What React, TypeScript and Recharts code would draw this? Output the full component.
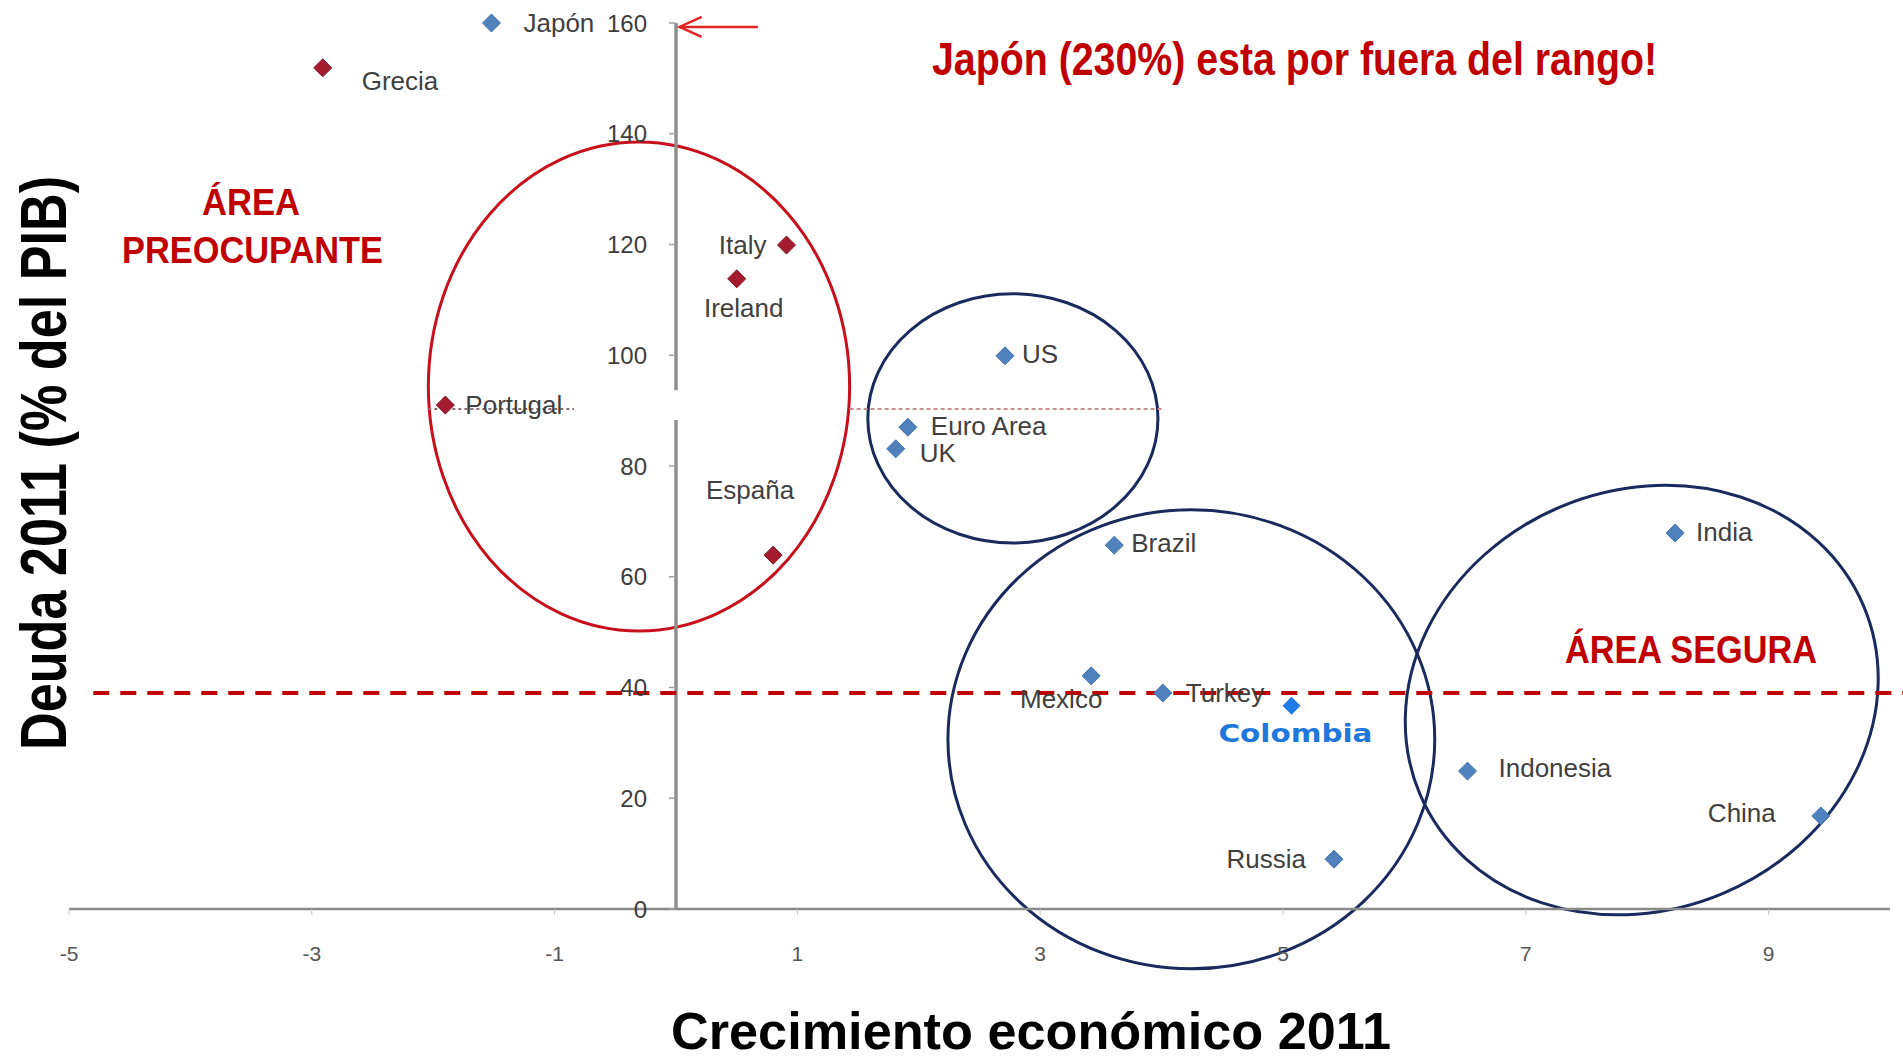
import React from 'react';
import {
  ScatterChart,
  Scatter,
  XAxis,
  YAxis,
  ReferenceLine,
  ReferenceArea,
  ReferenceDot
} from 'recharts';

const W = 1903;
const H = 1062;
const FONT = '"Liberation Sans", Arial, sans-serif';

// países europeos en problemas (rombos rojos): crecimiento 2011 y deuda (% PIB)
const redNames = ['Grecia', 'Italy', 'Ireland', 'Portugal', 'España'];
const redGrowth = [-2.91, 0.91, 0.5, -1.9, 0.8];
const redDebt = [151.9, 119.9, 113.8, 91.0, 63.9];

// resto de países (rombos azules); Japón (230%) va pegado al tope del eje
const blueNames = ['Japón', 'US', 'Euro Area', 'UK', 'Brazil', 'Mexico', 'Turkey', 'Russia', 'Indonesia', 'India', 'China'];
const blueGrowth = [-1.52, 2.71, 1.91, 1.81, 3.61, 3.42, 4.01, 5.42, 6.52, 8.23, 9.43];
const blueDebt = [160, 99.9, 87.0, 83.1, 65.7, 42.1, 39.0, 9.0, 24.9, 67.9, 16.8];

const colombiaNames = ['Colombia'];
const colombiaGrowth = [5.07];
const colombiaDebt = [36.7];

const xTicks = [-5, -3, -1, 1, 3, 5, 7, 9];
const yTicks = [0, 20, 40, 60, 80, 100, 120, 140, 160];

// elipses como cajas [x1, x2, y1, y2] + giro en grados
const worryZone = [-2.04, 1.43, 50.2, 138.5, 0];
const usZone = [1.58, 3.97, 66.1, 111.1, 0];
const emergingZone = [2.24, 6.25, -10.8, 72.1, 0];
const safeZone = [5.97, 9.94, -0.13, 75.6, -23];

const debtLimit = 39;
const euroLine = 90.3;

const toRows = (names: string[], xs: number[], ys: number[]) =>
  names.map((name, i) => ({ name, growth: xs[i], debt: ys[i] }));

const redData = toRows(redNames, redGrowth, redDebt);
const blueData = toRows(blueNames, blueGrowth, blueDebt);
const colombiaData = toRows(colombiaNames, colombiaGrowth, colombiaDebt);

// desplazamiento de cada etiqueta respecto al rombo
const labelPos: Record<string, [number, number, 'start' | 'middle' | 'end']> = {
  'Grecia': [39, 13, 'start'],
  'Italy': [-20, 0, 'end'],
  'Ireland': [7, 29, 'middle'],
  'Portugal': [20, 0, 'start'],
  'España': [-23, -65, 'middle'],
  'Japón': [32, 0, 'start'],
  'US': [17, -2, 'start'],
  'Euro Area': [23, -1, 'start'],
  'UK': [24, 4, 'start'],
  'Brazil': [17, -2, 'start'],
  'Mexico': [-30, 23, 'middle'],
  'Turkey': [23, 0, 'start'],
  'Russia': [-28, 0, 'end'],
  'Indonesia': [31, -3, 'start'],
  'India': [21, -1, 'start'],
  'China': [-45, -3, 'end']
};

const diamondShape = (fill: string, stroke: string) => (p: any) => {
  const { cx, cy, payload } = p;
  const [dx, dy, anchor] = labelPos[payload.name] || [20, 0, 'start'];
  const s = 9;
  return (
    <g>
      <polygon
        points={`${cx},${cy - s} ${cx + s},${cy} ${cx},${cy + s} ${cx - s},${cy}`}
        fill={fill}
        stroke={stroke}
        strokeWidth={1}
      />
      <text
        x={cx + dx}
        y={cy + dy}
        textAnchor={anchor}
        dominantBaseline="central"
        fontFamily={FONT}
        fontSize={26}
        fill="#404040"
      >
        {payload.name}
      </text>
    </g>
  );
};

const colombiaShape = (p: any) => {
  const { cx, cy, payload } = p;
  const s = 9;
  return (
    <g>
      <polygon
        points={`${cx},${cy - s} ${cx + s},${cy} ${cx},${cy + s} ${cx - s},${cy}`}
        fill="#1f7ae6"
      />
      <text
        x={cx - 73}
        y={cy + 28}
        dominantBaseline="central"
        fontFamily='"DejaVu Sans", Verdana, sans-serif'
        fontWeight="bold"
        fontSize={24}
        fill="#1e78dc"
        textLength={154}
        lengthAdjust="spacingAndGlyphs"
      >
        {payload.name}
      </text>
    </g>
  );
};

const ellipseShape = (color: string, angle: number) => (p: any) => {
  const { x, y, width, height } = p;
  const cx = x + width / 2;
  const cy = y + height / 2;
  return (
    <ellipse
      cx={cx}
      cy={cy}
      rx={Math.abs(width) / 2}
      ry={Math.abs(height) / 2}
      transform={angle ? `rotate(${angle} ${cx} ${cy})` : undefined}
      fill="none"
      stroke={color}
      strokeWidth={3}
    />
  );
};

const arrowShape = (p: any) => {
  const { x1, y1, x2, y2 } = p;
  return (
    <g>
      <line x1={x1} y1={y1} x2={x2} y2={y2} stroke="#e02424" strokeWidth={2.5} />
      <polyline
        points={`${x2 + 22},${y2 - 10} ${x2},${y2} ${x2 + 22},${y2 + 10}`}
        fill="none"
        stroke="#e02424"
        strokeWidth={2.5}
      />
    </g>
  );
};

const yTickShape = (v: number) => (p: any) => (
  <g>
    <line x1={p.cx - 7} x2={p.cx} y1={p.cy} y2={p.cy} stroke="#a0a0a0" strokeWidth={1.5} />
    <text
      x={p.cx - 29}
      y={p.cy}
      textAnchor="end"
      dominantBaseline="central"
      fontFamily={FONT}
      fontSize={24}
      fill="#3d3d3d"
    >
      {v}
    </text>
  </g>
);

const zone = (b: number[], color: string, key: string) => (
  <ReferenceArea
    key={key}
    x1={b[0]}
    x2={b[1]}
    y1={b[2]}
    y2={b[3]}
    ifOverflow="visible"
    shape={ellipseShape(color, b[4])}
  />
);

const App: React.FC = () => {
  return (
    <div style={{ position: 'relative', width: W, height: H, background: '#fff' }}>
      <style>{'body{margin:0;background:#fff}'}</style>
      <ScatterChart width={W} height={H} margin={{ top: 23, right: 13, bottom: 93, left: 69 }}>
        <XAxis
          type="number"
          dataKey="growth"
          domain={[-5, 10]}
          ticks={xTicks}
          interval={0}
          height={60}
          axisLine={{ stroke: '#8a8a8a', strokeWidth: 2.5 }}
          tickLine={{ stroke: '#c4c4c4' }}
          tickSize={6}
          tickMargin={31}
          tick={{ fontSize: 21, fill: '#555', fontFamily: FONT }}
        />
        <YAxis type="number" dataKey="debt" domain={[0, 160]} hide />

        {/* eje vertical en x = 0, con el corte que deja la caja blanca */}
        <ReferenceLine segment={[{ x: 0, y: 0 }, { x: 0, y: 88.3 }]} stroke="#8f8f8f" strokeWidth={3.5} ifOverflow="visible" />
        <ReferenceLine segment={[{ x: 0, y: 93.7 }, { x: 0, y: 160 }]} stroke="#8f8f8f" strokeWidth={3.5} ifOverflow="visible" />
        {yTicks.map((v) => (
          <ReferenceDot key={`yt-${v}`} x={0} y={v} r={0} ifOverflow="visible" shape={yTickShape(v)} />
        ))}

        <ReferenceLine
          segment={[{ x: -2.04, y: euroLine }, { x: -0.84, y: euroLine }]}
          stroke="#8a7070"
          strokeWidth={2}
          strokeDasharray="3 3"
          ifOverflow="visible"
        />
        <ReferenceLine
          segment={[{ x: 1.43, y: euroLine }, { x: 4.0, y: euroLine }]}
          stroke="#c49090"
          strokeWidth={2}
          strokeDasharray="4 3"
          ifOverflow="visible"
        />
        <ReferenceLine
          segment={[{ x: -4.8, y: debtLimit }, { x: 10.11, y: debtLimit }]}
          stroke="#c00000"
          strokeWidth={4}
          strokeDasharray="16 11"
          ifOverflow="visible"
        />

        {zone(worryZone, '#c8101c', 'z1')}
        {zone(usZone, '#1b2a5c', 'z2')}
        {zone(emergingZone, '#1b2a5c', 'z3')}
        {zone(safeZone, '#1b2a5c', 'z4')}

        <ReferenceLine
          segment={[{ x: 0.675, y: 159.3 }, { x: 0.03, y: 159.3 }]}
          ifOverflow="visible"
          shape={arrowShape}
        />

        <Scatter data={redData} shape={diamondShape('#a51c30', '#7e1424')} isAnimationActive={false} />
        <Scatter data={blueData} shape={diamondShape('#4f81bd', '#4474ad')} isAnimationActive={false} />
        <Scatter data={colombiaData} shape={colombiaShape} isAnimationActive={false} />
      </ScatterChart>

      <svg
        width={W}
        height={H}
        style={{ position: 'absolute', left: 0, top: 0, pointerEvents: 'none' }}
        fontFamily={FONT}
        fontWeight="bold"
      >
        <text x={932} y={75} fontSize={47} fill="#c00000" textLength={725} lengthAdjust="spacingAndGlyphs">
          Japón (230%) esta por fuera del rango!
        </text>
        <text x={202} y={215} fontSize={36} fill="#c00000" textLength={98} lengthAdjust="spacingAndGlyphs">
          ÁREA
        </text>
        <text x={122} y={263} fontSize={37} fill="#c00000" textLength={261} lengthAdjust="spacingAndGlyphs">
          PREOCUPANTE
        </text>
        <text x={1565} y={663} fontSize={39} fill="#c00000" textLength={252} lengthAdjust="spacingAndGlyphs">
          ÁREA SEGURA
        </text>
        <text x={671} y={1049} fontSize={52} fill="#000" textLength={720} lengthAdjust="spacingAndGlyphs">
          Crecimiento económico 2011
        </text>
        <text
          x={66 - 287}
          y={463}
          transform="rotate(-90 66 463)"
          fontSize={64}
          fill="#000"
          textLength={574}
          lengthAdjust="spacingAndGlyphs"
        >
          Deuda 2011 (% del PIB)
        </text>
      </svg>
    </div>
  );
};

export default App;
